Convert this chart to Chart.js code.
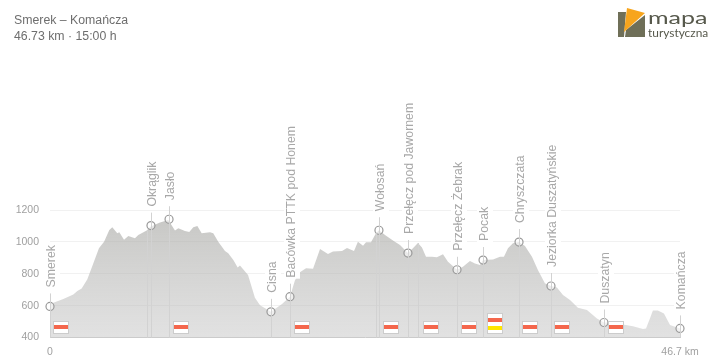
<!DOCTYPE html>
<html lang="pl">
<head>
<meta charset="utf-8">
<style>
html,body{margin:0;padding:0;background:#fff;width:720px;height:362px;overflow:hidden}
#wrap{position:relative;width:720px;height:362px;font-family:"Liberation Sans",Arial,sans-serif}
canvas{position:absolute;left:0;top:0}
.t{position:absolute;left:14px;font-size:12.3px;line-height:16px;color:#6e6e6e;white-space:nowrap}
#logo{position:absolute;left:618px;top:8px}
#m1{position:absolute;left:648px;top:8px;font:400 18px/18px Lato,sans-serif;color:#57594c;transform-origin:left top;transform:scaleX(1.39)}
#m2{position:absolute;left:648px;top:26px;font:400 11.9px/13px Lato,sans-serif;color:#57594c}
</style>
</head>
<body>
<div id="wrap">
<canvas id="c" width="720" height="362"></canvas>
<div class="t" style="top:12px">Smerek – Komańcza</div>
<div class="t" style="top:28px">46.73 km · 15:00 h</div>
<svg id="logo" width="28" height="30" viewBox="0 0 28 30">
<path d="M0 4h8l-2 25H0z" fill="#6f6f58"/>
<path d="M27 7V29H7L8 22z" fill="#6f6f58"/>
<path d="M9 0L27 5L6 24z" fill="#f7a51d"/>
</svg>
<div id="m1">mapa</div>
<div id="m2">turystyczna</div>
</div>
<script src="https://cdn.jsdelivr.net/npm/chart.js@4"></script>
<script>
const profileKm = [0,0.99,1.73,2.03,2.35,2.77,3.21,3.63,4.01,4.40,4.62,4.99,5.14,5.49,5.81,6.30,6.55,7.17,7.47,8.16,8.77,9.27,9.52,10.01,10.33,10.63,10.93,11.25,11.87,12.11,12.48,12.98,13.22,13.60,13.92,14.09,14.69,15.20,15.58,16.39,17.21,17.80,18.17,18.54,18.99,19.51,20.03,20.62,20.99,21.66,22.03,22.55,22.84,23.22,23.44,23.81,24.18,24.40,24.85,25.44,25.96,26.55,26.92,27.29,27.59,27.89,28.33,28.70,29.15,29.52,30.19,30.63,31.15,31.52,31.89,32.12,32.86,33.38,33.67,33.97,34.34,34.79,35.23,35.75,36.19,36.71,37.16,37.60,38.05,38.57,39.16,39.83,40.57,41.09,41.53,42.50,43.24,43.98,44.21,44.50,44.72,45.09,45.54,45.99,46.36,46.73];
const profileEle = [610,641,670,691,708,765,865,960,1001,1075,1092,1054,1060,1014,1037,1022,1043,1071,1096,1121,1138,1071,1085,1069,1062,1092,1100,1054,1060,1054,1001,943,928,886,840,851,792,649,603,561,610,656,760,809,834,832,955,924,939,943,962,943,1001,976,997,997,1054,1073,1043,1008,980,930,960,993,964,907,907,903,922,876,825,844,880,865,855,886,890,907,907,960,991,999,974,907,823,740,723,714,666,635,587,572,519,494,494,482,471,454,457,519,570,570,551,478,467,457];
const stopNames = ["Smerek","Okrąglik","Jasło","Cisna","Bacówka PTTK pod Honem","Wołosań","Przełęcz pod Jawornem","Przełęcz Żebrak","Pocak","Chryszczata","Jeziorka Duszatyńskie","Duszatyn","Komańcza"];
const stopKm = [0,7.49,8.83,16.39,17.80,24.40,26.55,30.19,32.12,34.79,37.16,41.09,46.73];
const stopEle = [595,1102,1142,561,656,1073,930,825,886,999,723,494,457];
const extraLineKm = [7.17,24.15,27.33];
const extraLineEle = [1071,1054,993];
const badgeKm = [0.85,9.69,18.67,25.27,28.24,31.10,33.01,35.62,38.0,41.96];
const badgeColours = [["#f4674d"],["#f4674d"],["#f4674d"],["#f4674d"],["#f4674d"],["#f4674d"],["#f4674d","#ffe600"],["#f4674d"],["#f4674d"],["#f4674d"]];
const yTicks = [400,600,800,1000,1200];
const totalKm = 46.73;

const overlay = {
  id:'overlay',
  afterDatasetsDraw(ch){
    const {ctx,scales:{x,y}} = ch;
    const base = y.getPixelForValue(400);
    ctx.save();
    ctx.strokeStyle='#d2d2d2'; ctx.lineWidth=1;
    extraLineKm.forEach((k,i)=>{
      const px=Math.round(x.getPixelForValue(k))+.5;
      ctx.beginPath();ctx.moveTo(px,y.getPixelForValue(extraLineEle[i]));ctx.lineTo(px,base);ctx.stroke();
    });
    stopKm.forEach((k,i)=>{
      const px=Math.round(x.getPixelForValue(k))+.5, py=y.getPixelForValue(stopEle[i]);
      ctx.beginPath();ctx.moveTo(px,py-13);ctx.lineTo(px,base);ctx.stroke();
    });
    ctx.font='12.3px "Liberation Sans",Arial,sans-serif';
    stopKm.forEach((k,i)=>{
      const px=x.getPixelForValue(k)+2, py=y.getPixelForValue(stopEle[i])-19;
      const w=ctx.measureText(stopNames[i]).width;
      ctx.save();
      ctx.translate(px,py);ctx.rotate(-Math.PI/2);
      ctx.fillStyle='#fff';
      ctx.fillRect(-1,-8,w+2,16);
      ctx.fillStyle='#a8a8a8';ctx.textAlign='left';ctx.textBaseline='middle';
      ctx.fillText(stopNames[i],0,0);
      ctx.restore();
    });
    badgeKm.forEach((k,i)=>{
      const cols=badgeColours[i], h=cols.length===2?20:12;
      const bx=Math.round(x.getPixelForValue(k))-8, by=333-h;
      ctx.fillStyle='#fff';ctx.fillRect(bx,by,16,h);
      ctx.strokeStyle='#ccc';ctx.strokeRect(bx+.5,by+.5,15,h);
      cols.forEach((c,j)=>{
        ctx.fillStyle=c;
        const sy=cols.length===2?by+5+j*8:by+4;
        ctx.fillRect(bx+1,sy,14,4);
      });
    });
    ctx.restore();
  }
};

const ctx=document.getElementById('c').getContext('2d');
const grad=ctx.createLinearGradient(0,210,0,338);
grad.addColorStop(0,'rgba(168,168,164,.66)');
grad.addColorStop(1,'rgba(190,190,190,.45)');

new Chart(ctx,{
  type:'scatter',
  data:{datasets:[
    {type:'scatter',data:stopKm.map((k,i)=>({x:k,y:stopEle[i]})),pointRadius:4,pointBackgroundColor:'rgba(255,255,255,.55)',pointBorderColor:'#999',pointBorderWidth:1.2,clip:false,order:0},
    {type:'line',data:profileKm.map((k,i)=>({x:k,y:profileEle[i]})),fill:{target:'origin'},backgroundColor:grad,borderWidth:0,pointRadius:0,tension:0,order:1}
  ]},
  options:{
    responsive:false,animation:false,
    layout:{padding:{left:0,right:40,top:210,bottom:0}},
    plugins:{legend:{display:false},tooltip:{enabled:false}},
    scales:{
      x:{type:'linear',min:0,max:totalKm,
        grid:{display:false},border:{color:'#ccc'},
        afterBuildTicks(s){s.ticks=[{value:0},{value:totalKm}]},
        afterFit(s){s.height=24.5},
        ticks:{color:'#a0a0a0',font:{size:10.5,family:'"Liberation Sans"'},maxRotation:0,padding:0,autoSkip:false,
          callback:v=>v===0?'0':'46.7 km'}},
      y:{min:400,max:1200,
        grid:{color:'#f1f1f1',drawTicks:false},border:{display:false},
        afterBuildTicks(s){s.ticks=yTicks.map(v=>({value:v}))},
        afterFit(s){s.width=50},
        ticks:{color:'#a0a0a0',font:{size:10.5,family:'"Liberation Sans"'},padding:11,callback:v=>String(v)}}
    }
  },
  plugins:[overlay]
});
</script>
</body>
</html>
